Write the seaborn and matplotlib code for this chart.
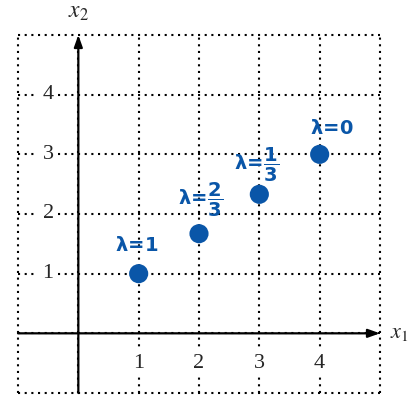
import matplotlib
matplotlib.use("Agg")
import matplotlib.pyplot as plt
import seaborn as sns
import pandas as pd

# Points on the segment between (1, 1) and (4, 3)
x_vals = [1, 2, 3, 4]
y_vals = [1.0, 1.67, 2.33, 3.0]
lam_labels = [r"$\mathbf{\lambda\!=\!1}$", r"$\mathbf{\lambda\!=\!\dfrac{2}{3}}$",
              r"$\mathbf{\lambda\!=\!\dfrac{1}{3}}$", r"$\mathbf{\lambda\!=\!0}$"]
tick_vals = [1, 2, 3, 4]

sns.set_style("white")
plt.rcParams["font.family"] = ["Liberation Serif", "DejaVu Serif"]
plt.rcParams["mathtext.fontset"] = "stix"

fig = plt.figure(figsize=(4.09, 3.98), dpi=100)
ax = fig.add_axes([18 / 409, 5 / 398, 362 / 409, 358 / 398])
ax.set_xlim(-1, 5)
ax.set_ylim(-1, 5)
ax.axis("off")

# dotted grid including the outer frame
for v in range(-1, 6):
    ax.plot([v, v], [-1, 5], color="black", lw=1.5, ls=(0, (1, 2.2)),
            clip_on=False, zorder=1)
    ax.plot([-1, 5], [v, v], color="black", lw=1.5, ls=(0, (1, 2.2)),
            clip_on=False, zorder=1)

# coordinate axes with arrowheads
arrow = dict(arrowstyle="-|>,head_length=0.7,head_width=0.25", color="black",
             lw=1.6, shrinkA=0, shrinkB=0)
ax.annotate("", xy=(5, 0), xytext=(-1, 0), arrowprops=arrow, zorder=3,
            annotation_clip=False)
ax.annotate("", xy=(0, 5), xytext=(0, -1), arrowprops=arrow, zorder=3,
            annotation_clip=False)

box = dict(facecolor="white", edgecolor="none", pad=3)
for t in tick_vals:
    ax.text(t, -0.5, str(t), ha="center", va="center", fontsize=16,
            bbox=box, zorder=4)
    ax.text(-0.5, t, str(t), ha="center", va="center", fontsize=16,
            bbox=box, zorder=4)

ax.text(0, 5.38, r"$x_2$", ha="center", va="center", fontsize=17, clip_on=False)
ax.text(5.16, 0.0, r"$x_1$", ha="left", va="center", fontsize=16, clip_on=False)

df = pd.DataFrame({"x": x_vals, "y": y_vals})
blue = "#0a56a8"
sns.scatterplot(data=df, x="x", y="y", ax=ax, s=190, color=blue,
                edgecolor="none", zorder=5, clip_on=False)
ax.set_xlabel("")
ax.set_ylabel("")

offsets = [(-0.03, 0.47), (0.03, 0.57), (-0.05, 0.5), (0.2, 0.43)]
for x, y, lab, (dx, dy) in zip(x_vals, y_vals, lam_labels, offsets):
    ax.text(x + dx, y + dy, lab, color=blue, fontsize=14, ha="center",
            va="center", zorder=6, math_fontfamily="dejavusans")

fig.savefig("out.png", dpi=100)
